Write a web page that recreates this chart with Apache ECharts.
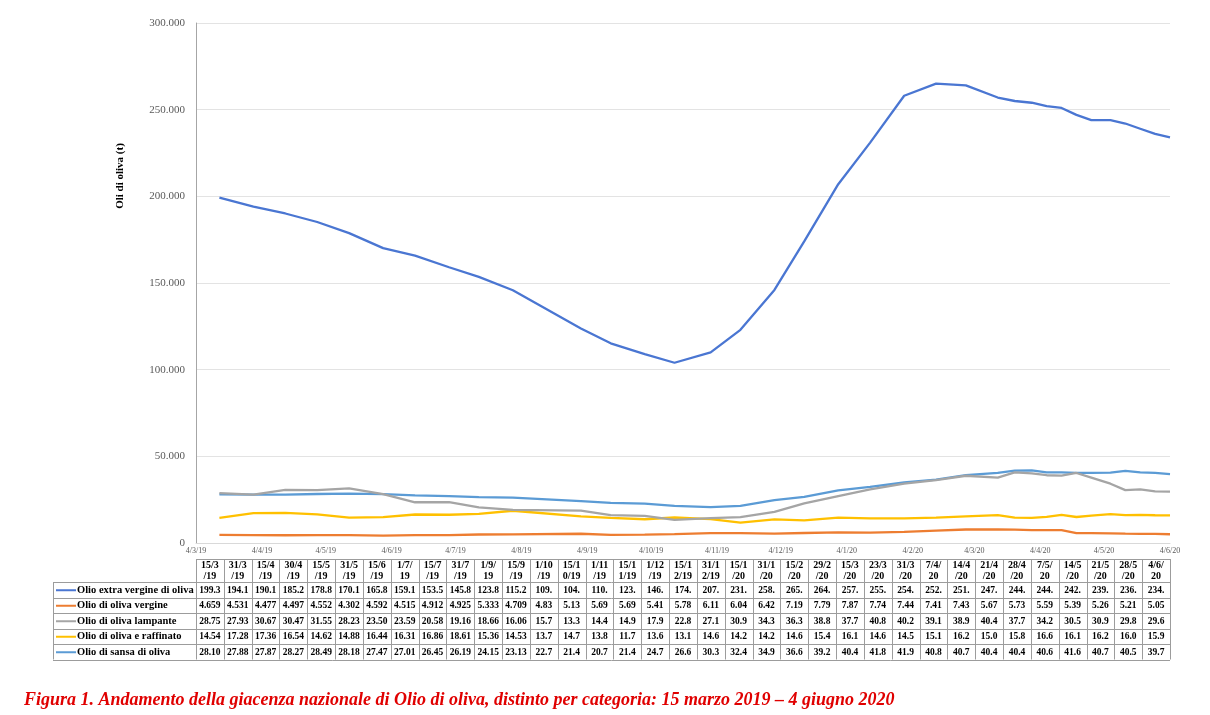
<!DOCTYPE html>
<html>
<head>
<meta charset="utf-8">
<script src="https://cdn.jsdelivr.net/npm/echarts@6/dist/echarts.min.js"></script>
<style>
html,body{margin:0;padding:0;background:#fff;}
#main{width:1210px;height:715px;}
</style>
</head>
<body>
<div id="main"></div>
<script>
// ---------- DATA ----------
const dates = ['2019-03-15','2019-03-31','2019-04-15','2019-04-30','2019-05-15','2019-05-31','2019-06-15','2019-07-01','2019-07-15','2019-07-31','2019-09-01','2019-09-15','2019-10-01','2019-10-15','2019-11-01','2019-11-15','2019-12-01','2019-12-15','2019-12-31','2020-01-15','2020-01-31','2020-02-15','2020-02-29','2020-03-15','2020-03-23','2020-03-31','2020-04-07','2020-04-14','2020-04-21','2020-04-28','2020-05-07','2020-05-14','2020-05-21','2020-05-28','2020-06-04'];

const seriesNames = ['Olio extra vergine di oliva','Olio di oliva vergine','Olio di oliva lampante','Olio di oliva e raffinato','Olio di sansa di oliva'];

// values in thousands of tonnes, as printed in the data table
const extraVergine = ['199.3','194.1','190.1','185.2','178.8','170.1','165.8','159.1','153.5','145.8','123.8','115.2','109.','104.','110.','123.','146.','174.','207.','231.','258.','265.','264.','257.','255.','254.','252.','251.','247.','244.','244.','242.','239.','236.','234.'];
const vergine = ['4.659','4.531','4.477','4.497','4.552','4.302','4.592','4.515','4.912','4.925','5.333','4.709','4.83','5.13','5.69','5.69','5.41','5.78','6.11','6.04','6.42','7.19','7.79','7.87','7.74','7.44','7.41','7.43','5.67','5.73','5.59','5.39','5.26','5.21','5.05'];
const lampante = ['28.75','27.93','30.67','30.47','31.55','28.23','23.50','23.59','20.58','19.16','18.66','16.06','15.7','13.3','14.4','14.9','17.9','22.8','27.1','30.9','34.3','36.3','38.8','37.7','40.8','40.2','39.1','38.9','40.4','37.7','34.2','30.5','30.9','29.8','29.6'];
const raffinato = ['14.54','17.28','17.36','16.54','14.62','14.88','16.44','16.31','16.86','18.61','15.36','14.53','13.7','14.7','13.8','11.7','13.6','13.1','14.6','14.2','14.2','14.6','15.4','16.1','14.6','14.5','15.1','16.2','15.0','15.8','16.6','16.1','16.2','16.0','15.9'];
const sansa = ['28.10','27.88','27.87','28.27','28.49','28.18','27.47','27.01','26.45','26.19','24.15','23.13','22.7','21.4','20.7','21.4','24.7','26.6','30.3','32.4','34.9','36.6','39.2','40.4','41.8','41.9','40.8','40.7','40.4','40.4','40.6','41.6','40.7','40.5','39.7'];

const xTickDates = ['2019-03-04','2019-04-04','2019-05-04','2019-06-04','2019-07-04','2019-08-04','2019-09-04','2019-10-04','2019-11-04','2019-12-04','2020-01-04','2020-02-04','2020-03-04','2020-04-04','2020-05-04','2020-06-04'];
const yTicks = [0, 50, 100, 150, 200, 250, 300];

const caption = 'Figura 1. Andamento della giacenza nazionale di Olio di oliva, distinto per categoria: 15 marzo 2019 \u2013 4 giugno 2020';
const yName = 'Oli di oliva (t)';

// ---------- CHART ----------
const colors = ['#4a76d2','#ED7D31','#A5A5A5','#FFC000','#5B9BD5'];
const tableRows = [extraVergine, vergine, lampante, raffinato, sansa];
const FONT = '"Liberation Serif", "DejaVu Serif", serif';

function toTs(s){ const p = s.split('-'); return Date.UTC(+p[0], +p[1]-1, +p[2]); }
function fmtDate(ts){ const d = new Date(ts); return d.getUTCDate() + '/' + (d.getUTCMonth()+1) + '/' + String(d.getUTCFullYear()).slice(2); }

const chart = echarts.init(document.getElementById('main'), null, {renderer:'canvas'});

const GRID = {left:196, right:40, top:23, bottom:172};

const series = tableRows.map((row, i) => ({
  name: seriesNames[i],
  type: 'line',
  symbol: 'none',
  lineStyle: {width: 2.3, color: colors[i]},
  itemStyle: {color: colors[i]},
  z: 10 - i,
  data: row.map((v, j) => [toTs(dates[j]), parseFloat(v)])
}));

chart.setOption({
  animation: false,
  backgroundColor: '#fff',
  grid: GRID,
  xAxis: {
    type: 'value',
    min: toTs(xTickDates[0]),
    max: toTs(xTickDates[xTickDates.length-1]),
    axisLine: {show: true, lineStyle: {color: '#d9d9d9', width: 1}},
    axisTick: {show: false},
    splitLine: {show: false},
    axisLabel: {
      customValues: xTickDates.map(toTs),
      formatter: v => fmtDate(v),
      fontFamily: FONT, fontSize: 8, color: '#595959', margin: 4,
      showMinLabel: true, showMaxLabel: true, hideOverlap: false
    }
  },
  yAxis: {
    type: 'value',
    min: yTicks[0], max: yTicks[yTicks.length-1], interval: 50,
    axisLine: {show: true, lineStyle: {color: '#a6a6a6', width: 1}},
    axisTick: {show: false},
    splitLine: {show: true, lineStyle: {color: '#e3e3e3', width: 1}},
    axisLabel: {
      formatter: v => v === 0 ? '0' : v + '.000',
      fontFamily: FONT, fontSize: 11, color: '#595959', margin: 11
    }
  },
  series: series
});

// ---------- DATA TABLE (layout derived from grid box) ----------
const W = chart.getWidth();
const L = GRID.left, R = W - GRID.right;
const n = dates.length;
const colW = (R - L) / n;
const headTop = 559, headBot = 582, rowH = 15.5;
const legL = 53;
const tableBot = headBot + rowH * tableRows.length;
const BORDER = '#9c9c9c';
const els = [];

els.push({type:'line', shape:{x1:L, y1:headTop+0.5, x2:R, y2:headTop+0.5}, style:{stroke:BORDER, lineWidth:1}});
for (let r = 0; r <= tableRows.length; r++) {
  const y = Math.round(headBot + r*rowH) + 0.5;
  els.push({type:'line', shape:{x1:legL, y1:y, x2:R, y2:y}, style:{stroke:BORDER, lineWidth:1}});
}
els.push({type:'line', shape:{x1:legL+0.5, y1:headBot, x2:legL+0.5, y2:tableBot}, style:{stroke:BORDER, lineWidth:1}});
for (let c = 0; c <= n; c++) {
  const x = Math.round(L + c*colW) + 0.5;
  els.push({type:'line', shape:{x1:x, y1:headTop, x2:x, y2:tableBot}, style:{stroke:BORDER, lineWidth:1}});
}
dates.forEach((d, c) => {
  const lab = fmtDate(toTs(d));
  const txt = lab.slice(0,4) + '\n' + lab.slice(4);
  els.push({type:'text', x: L + (c+0.5)*colW, y: (headTop+headBot)/2 + 0.5,
    style:{text: txt, fontFamily: FONT, fontWeight:'bold', fontSize: 10, lineHeight: 11, fill:'#000', align:'center', verticalAlign:'middle'}});
});
tableRows.forEach((row, r) => {
  const yc = headBot + (r+0.5)*rowH + 0.5;
  els.push({type:'line', shape:{x1:legL+3, y1:yc, x2:legL+23, y2:yc}, style:{stroke:colors[r], lineWidth:2}});
  els.push({type:'text', x: legL+24, y: yc,
    style:{text: seriesNames[r], fontFamily: FONT, fontWeight:'bold', fontSize: 10.5, fill:'#000', align:'left', verticalAlign:'middle'}});
  row.forEach((v, c) => {
    els.push({type:'text', x: L + (c+0.5)*colW, y: yc,
      style:{text: v, fontFamily: FONT, fontWeight:'bold', fontSize: 9.5, fill:'#000', align:'center', verticalAlign:'middle'}});
  });
});
els.push({type:'text', x:120, y:176, rotation: Math.PI/2,
  style:{text: yName, fontFamily: FONT, fontWeight:'bold', fontSize: 11, fill:'#000', align:'center', verticalAlign:'middle'}});
els.push({type:'text', x:24, y:700,
  style:{text: caption, fontFamily: FONT, fontWeight:'bold', fontStyle:'italic', fontSize: 18, fill:'#e00000', align:'left', verticalAlign:'middle'}});

chart.setOption({graphic: {elements: els}});
</script>
</body>
</html>
